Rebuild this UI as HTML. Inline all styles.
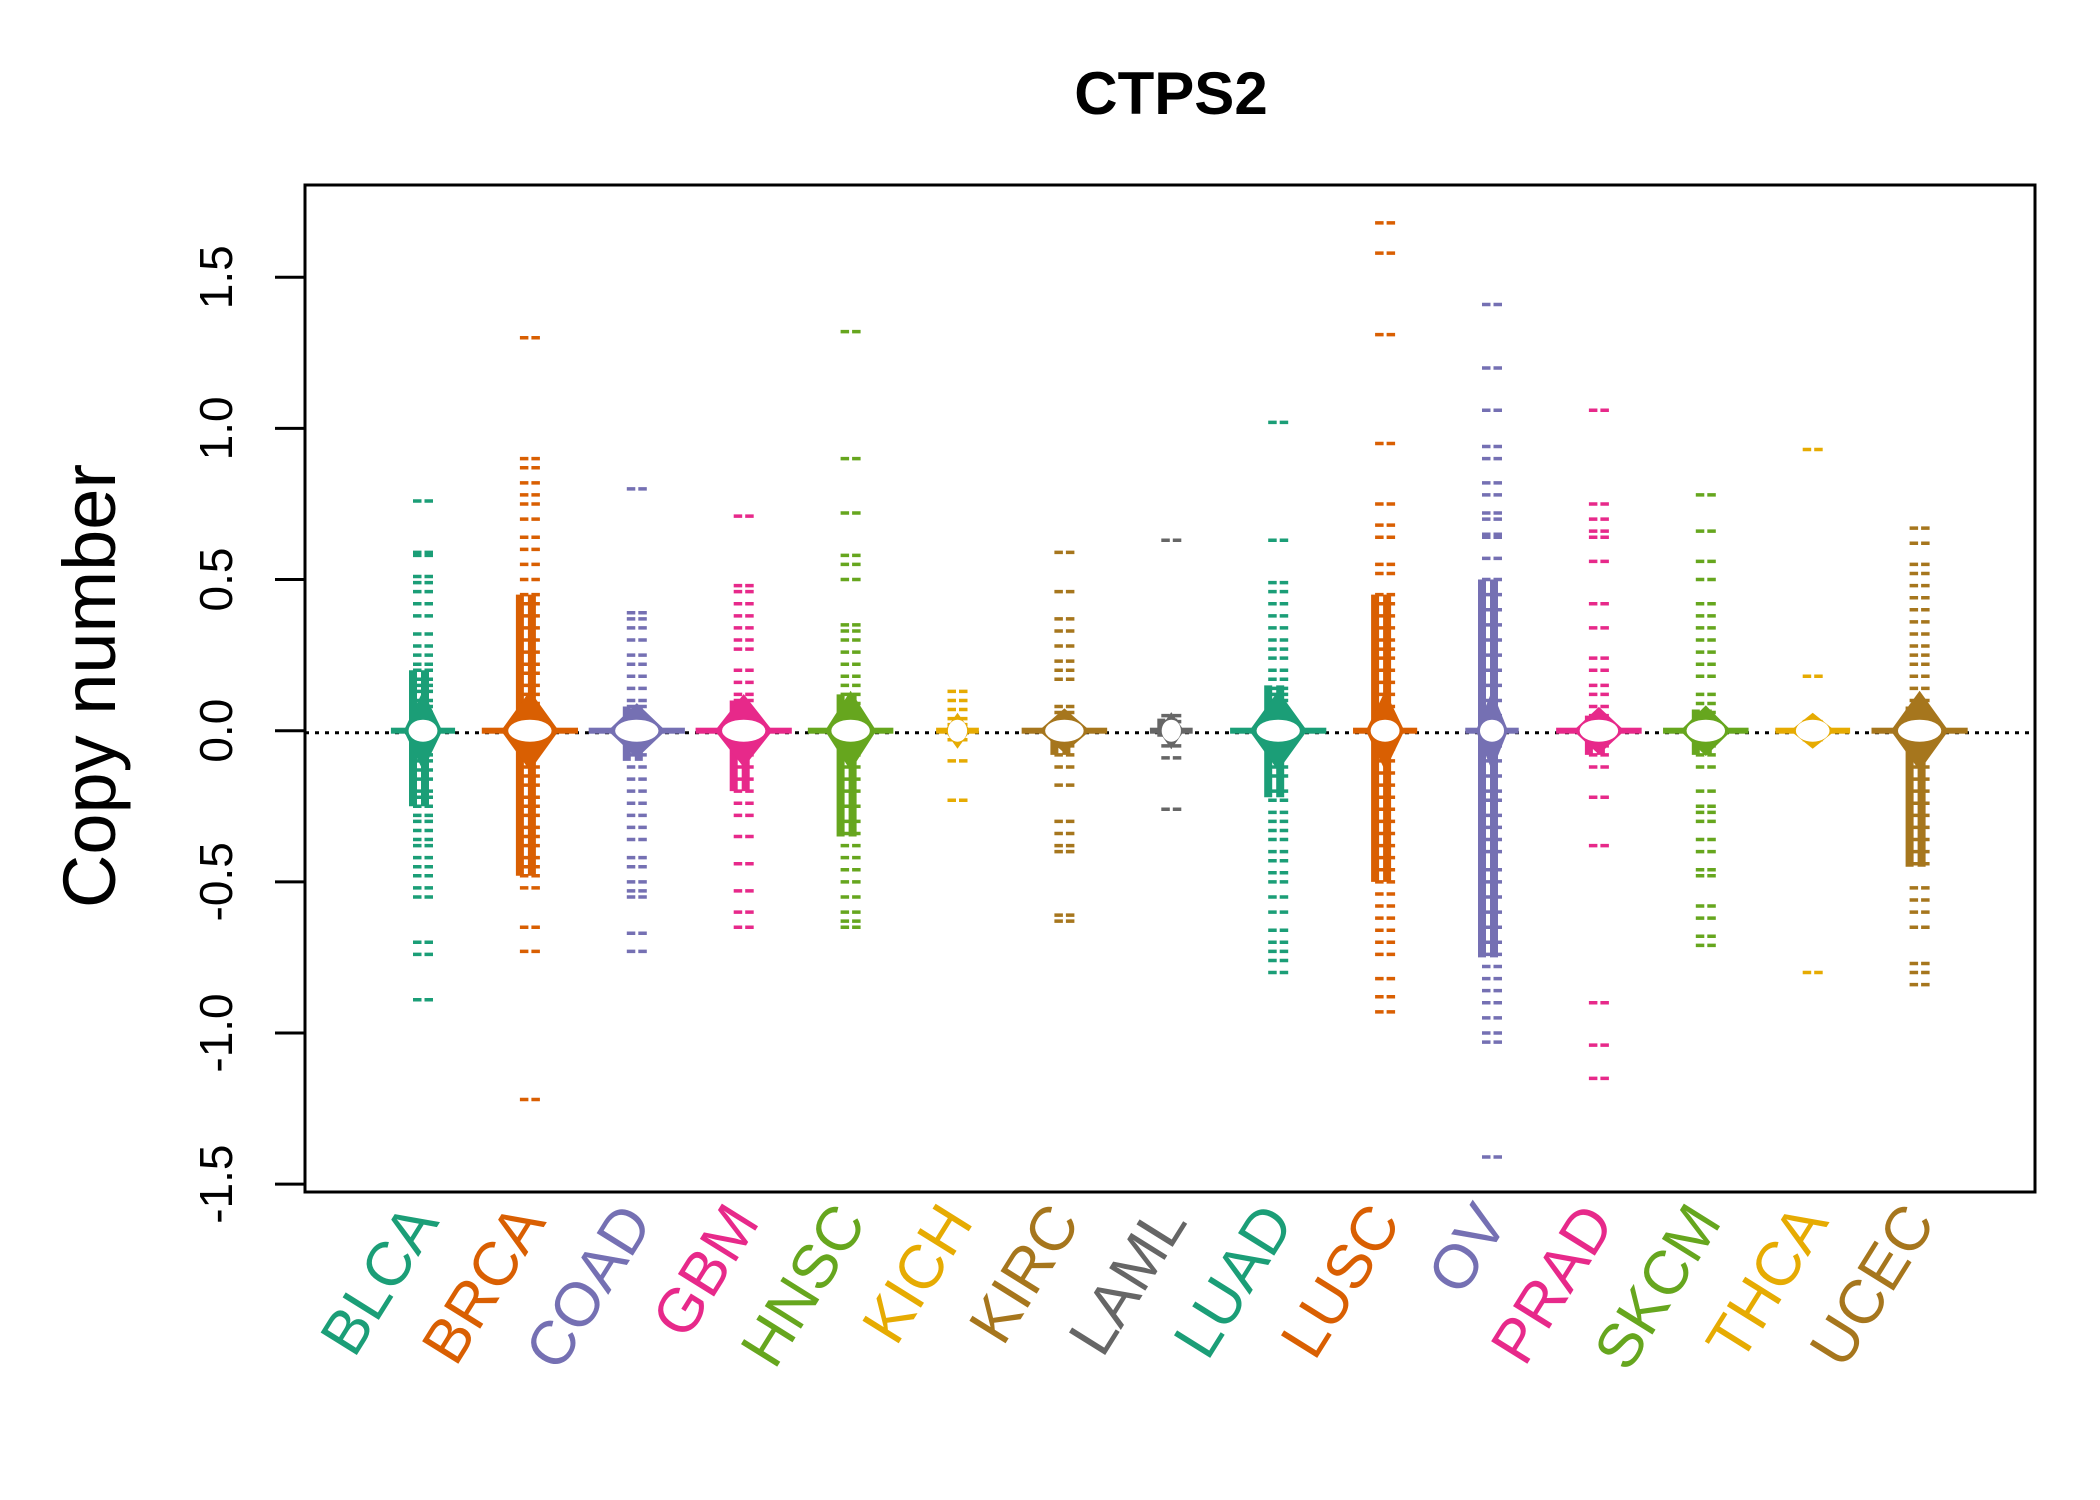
<!DOCTYPE html>
<html><head><meta charset="utf-8"><style>
html,body{margin:0;padding:0;background:#fff;}
svg{display:block;font-family:"Liberation Sans",sans-serif;}
</style></head><body>
<svg id="chart" width="2100" height="1500" viewBox="0 0 2100 1500" xmlns="http://www.w3.org/2000/svg">
<rect x="0" y="0" width="2100" height="1500" fill="#fff"/>
<text x="1171" y="114" text-anchor="middle" font-size="60" font-weight="bold">CTPS2</text>
<text transform="translate(115,686) rotate(-90)" text-anchor="middle" font-size="74">Copy number</text>
<g id="marks"></g>
<g id="axes"></g>
<rect x="305" y="185" width="1730" height="1007" fill="none" stroke="#000" stroke-width="3"/>
</svg>
<script>
const categories = ["BLCA","BRCA","COAD","GBM","HNSC","KICH","KIRC","LAML","LUAD","LUSC","OV","PRAD","SKCM","THCA","UCEC"];
const colors = ["#1B9E77","#D95F02","#7570B3","#E7298A","#66A61E","#E6AB02","#A6761D","#666666","#1B9E77","#D95F02","#7570B3","#E7298A","#66A61E","#E6AB02","#A6761D"];
const yTicks = [-1.5,-1.0,-0.5,0.0,0.5,1.0,1.5];
const yTickLabels = ["-1.5","-1.0","-0.5","0.0","0.5","1.0","1.5"];
const coreHi = [0.2,0.45,0.08,0.1,0.12,0,0.03,0.04,0.15,0.45,0.5,0.05,0.07,0,0.08];
const coreLo = [-0.25,-0.48,-0.1,-0.2,-0.35,0,-0.08,-0.02,-0.22,-0.5,-0.75,-0.08,-0.08,0,-0.45];
const spread = [0.3,0.45,0.45,0.45,0.4,0.2,0.4,0.2,0.45,0.3,0.25,0.4,0.4,0.35,0.45];
const vBLCA = [0.76,0.59,0.58,0.51,0.49,0.46,0.42,0.38,0.32,0.28,0.25,0.22,0.2,0.17,0.15,0.13,0.1,0.08,0.06,-0.05,-0.08,-0.1,-0.13,-0.16,-0.2,-0.22,-0.25,-0.28,-0.3,-0.33,-0.36,-0.38,-0.42,-0.45,-0.48,-0.52,-0.55,-0.7,-0.74,-0.89];
const vBRCA = [1.3,0.9,0.87,0.82,0.78,0.75,0.7,0.64,0.6,0.55,0.5,0.45,0.42,0.38,0.34,0.3,0.26,0.22,0.19,0.15,0.12,0.09,0.06,0.04,-0.05,-0.08,-0.12,-0.15,-0.18,-0.22,-0.25,-0.28,-0.32,-0.35,-0.38,-0.42,-0.45,-0.48,-0.52,-0.65,-0.73,-1.22];
const vCOAD = [0.8,0.39,0.37,0.34,0.3,0.25,0.22,0.18,0.14,0.1,0.08,0.05,-0.05,-0.08,-0.12,-0.16,-0.2,-0.24,-0.28,-0.32,-0.36,-0.42,-0.45,-0.5,-0.53,-0.55,-0.67,-0.73];
const vGBM = [0.71,0.48,0.46,0.42,0.38,0.34,0.3,0.27,0.2,0.16,0.12,0.1,0.07,-0.05,-0.08,-0.12,-0.16,-0.2,-0.24,-0.28,-0.35,-0.44,-0.53,-0.6,-0.65];
const vHNSC = [1.32,0.9,0.72,0.58,0.55,0.5,0.35,0.33,0.3,0.26,0.22,0.18,0.15,0.12,0.09,0.06,-0.05,-0.08,-0.12,-0.16,-0.2,-0.25,-0.3,-0.34,-0.38,-0.42,-0.46,-0.5,-0.55,-0.6,-0.63,-0.65];
const vKICH = [0.13,0.1,0.07,0.04,0.02,-0.03,-0.1,-0.23];
const vKIRC = [0.59,0.46,0.37,0.33,0.28,0.23,0.2,0.17,0.08,0.06,-0.05,-0.08,-0.12,-0.18,-0.3,-0.34,-0.38,-0.4,-0.61,-0.63];
const vLAML = [0.63,0.05,0.03,-0.05,-0.09,-0.26];
const vLUAD = [1.02,0.63,0.49,0.46,0.42,0.38,0.34,0.3,0.27,0.24,0.2,0.17,0.14,0.12,0.1,0.07,-0.05,-0.08,-0.12,-0.15,-0.2,-0.23,-0.27,-0.3,-0.33,-0.36,-0.4,-0.43,-0.47,-0.5,-0.55,-0.6,-0.66,-0.7,-0.73,-0.76,-0.8];
const vLUSC = [1.68,1.58,1.31,0.95,0.75,0.68,0.64,0.55,0.52,0.45,0.42,0.38,0.34,0.3,0.27,0.24,0.2,0.16,0.12,0.08,0.04,-0.06,-0.1,-0.14,-0.18,-0.22,-0.26,-0.3,-0.34,-0.38,-0.42,-0.46,-0.5,-0.54,-0.58,-0.62,-0.66,-0.7,-0.74,-0.82,-0.88,-0.93];
const vOV = [1.41,1.2,1.06,0.94,0.9,0.82,0.78,0.72,0.7,0.65,0.64,0.57,0.5,0.45,0.4,0.35,0.3,0.25,0.2,0.15,0.1,0.05,-0.05,-0.1,-0.15,-0.2,-0.23,-0.28,-0.32,-0.36,-0.4,-0.46,-0.5,-0.55,-0.6,-0.65,-0.7,-0.74,-0.78,-0.82,-0.86,-0.9,-0.95,-1.0,-1.03,-1.41];
const vPRAD = [1.06,0.75,0.7,0.66,0.64,0.56,0.42,0.34,0.24,0.2,0.15,0.12,0.08,0.05,-0.05,-0.08,-0.12,-0.22,-0.38,-0.9,-1.04,-1.15];
const vSKCM = [0.78,0.66,0.56,0.5,0.42,0.38,0.34,0.3,0.26,0.22,0.18,0.12,0.09,0.06,-0.05,-0.08,-0.12,-0.2,-0.25,-0.27,-0.3,-0.36,-0.4,-0.46,-0.48,-0.58,-0.62,-0.68,-0.71];
const vTHCA = [0.93,0.18,0.03,-0.03,-0.8];
const vUCEC = [0.67,0.62,0.55,0.52,0.48,0.44,0.4,0.36,0.32,0.28,0.25,0.22,0.18,0.14,0.1,0.07,-0.05,-0.08,-0.12,-0.16,-0.2,-0.24,-0.28,-0.32,-0.36,-0.4,-0.44,-0.52,-0.56,-0.6,-0.65,-0.77,-0.8,-0.84];
const seriesValues = [vBLCA,vBRCA,vCOAD,vGBM,vHNSC,vKICH,vKIRC,vLAML,vLUAD,vLUSC,vOV,vPRAD,vSKCM,vTHCA,vUCEC];

const NS = "http://www.w3.org/2000/svg";
const X0 = 305, X1 = 2035;
const yScale = v => 730.7 - v * 302.3;
const xScale = i => 423 + i * 106.9;
const band = 106.9;
function mk(tag, attrs, parent) {
  const e = document.createElementNS(NS, tag);
  for (const k in attrs) e.setAttribute(k, attrs[k]);
  parent.appendChild(e);
  return e;
}
const marks = document.getElementById('marks');
const axes = document.getElementById('axes');

const zl = mk('line', {x1: X0, x2: X1, y1: yScale(0) + 2, y2: yScale(0) + 2, stroke: '#000', 'stroke-width': 3, 'stroke-dasharray': '4,6'}, marks);



categories.forEach((cat, i) => {
  const g = mk('g', {}, marks);
  
  
  const cx = xScale(i), col = colors[i];
  seriesValues[i].forEach(v => {
    const y = yScale(v);
    const d = mk('path', {d: `M${cx-10},${y}h8.5M${cx+1.5},${y}h8.5`, stroke: col, 'stroke-width': 3.5, fill: 'none'}, g);
    
    
  });
  if (coreHi[i] !== coreLo[i]) {
    const c = mk('path', {d: `M${cx-10},${yScale(coreHi[i])}V${yScale(coreLo[i])}M${cx+2},${yScale(coreHi[i])}V${yScale(coreLo[i])}`, stroke: col, 'stroke-width': 8, fill: 'none'}, g);
    
    
  }
  const w = spread[i] * band;
  const h = mk('rect', {x: cx - w, y: yScale(0) - 3, width: 2 * w, height: 6, fill: col}, g);
  
  
  const vh = Math.max(18, Math.min(40, (yScale(coreLo[i]) - yScale(coreHi[i])) / 4 + 14));
  const cross = mk('path', {d: `M${cx},${yScale(0)-vh}L${cx+w*0.6},${yScale(0)}L${cx},${yScale(0)+vh}L${cx-w*0.6},${yScale(0)}Z`, fill: col}, g);
  
  
  const hole = mk('ellipse', {cx: cx, cy: yScale(0), rx: Math.min(w * 0.45, 30), ry: 11, fill: '#fff'}, g);
  
  
  const t = mk('text', {transform: `translate(${cx + 17},${1222}) rotate(-58)`, 'text-anchor': 'end', 'font-size': 62, fill: col}, axes);
  t.textContent = cat;
  
  
});

yTicks.forEach((v, k) => {
  const y = yScale(v);
  const tk = mk('line', {x1: 275, x2: 305, y1: y, y2: y, stroke: '#000', 'stroke-width': 3}, axes);
  
  
  const lb = mk('text', {transform: `translate(232,${y}) rotate(-90)`, 'text-anchor': 'middle', 'font-size': 46}, axes);
  lb.textContent = yTickLabels[k];
  
  
});
</script>
</body></html>
